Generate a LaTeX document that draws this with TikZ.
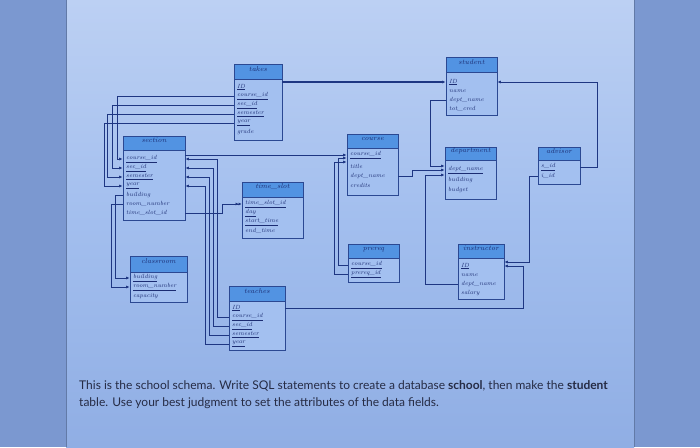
\documentclass[tikz,border=0pt]{standalone}
\usepackage{fontspec}
\newfontfamily\latofont{Lato}
\usetikzlibrary{arrows.meta,fit,calc}
\definecolor{outerbg}{HTML}{7B98D0}
\definecolor{pagetop}{HTML}{BCD0F3}
\definecolor{pagemid}{HTML}{A2BEEE}
\definecolor{pagebot}{HTML}{90AEE4}
\definecolor{tabfill}{HTML}{A3C0F0}
\definecolor{headfill}{HTML}{5293E2}
\definecolor{tabborder}{HTML}{2B4892}
\definecolor{textblue}{HTML}{1B2C72}
\definecolor{linkblue}{HTML}{1E3682}
\definecolor{captext}{HTML}{262C45}
\tikzset{
  tbody/.style={draw=tabborder, fill=tabfill, line width=0.7pt, inner sep=0pt},
  thead/.style={draw=tabborder, fill=headfill, line width=0.7pt, inner sep=0pt,
    font=\itshape\fontsize{7}{8}\selectfont, text=textblue},
  attr/.style={anchor=west, inner sep=0pt, font=\itshape\fontsize{6}{7}\selectfont, text=textblue},
  fk/.style={draw=linkblue, line width=0.8pt, -{Latex[length=3.5pt,width=3pt]}},
  dfk/.style={draw=linkblue, line width=0.8pt, -{Latex[length=3pt,width=3pt]Latex[length=3pt,width=3pt]}},
}
\newcommand\mktable[7]{%
  \node[tbody, fit={(#2,#3)(#4,#5)}] (#1-b) {};
  \node[thead, fit={(#2,#3)(#4,#6)}] (#1-h) {#7};
}
\newcommand\attrrow[4]{\node[attr] (#1) at (#2,#3) {#4};}
\begin{document}
\begin{tikzpicture}[x=1pt,y=-1pt]
\useasboundingbox (0,0) rectangle (700,447);
% background photo of screen
\fill[outerbg] (0,0) rectangle (700,447);
\shade[top color=pagetop, bottom color=pagebot, middle color=pagemid] (66,0) rectangle (634,447);
\draw[outerbg!80!black, line width=0.6pt] (66,0) -- (66,447);
\draw[outerbg!80!black, line width=0.6pt] (634,0) -- (634,447);

% tables
\mktable{takes}{234}{64}{282}{140}{79}{takes}
\attrrow{takes-ID}{237}{87}{\underline{ID}}
\attrrow{takes-cid}{237}{96}{\underline{course\_id}}
\attrrow{takes-sid}{237}{105}{\underline{sec\_id}}
\attrrow{takes-sem}{237}{114}{\underline{semester}}
\attrrow{takes-yr}{237}{123}{\underline{year}}
\attrrow{takes-gr}{237}{132}{grade}

\mktable{student}{446}{57}{497}{115}{72}{student}
\attrrow{student-ID}{449}{82}{\underline{ID}}
\attrrow{student-nm}{449}{91}{name}
\attrrow{student-dn}{449}{100}{dept\_name}
\attrrow{student-tc}{449}{109}{tot\_cred}

\mktable{section}{123}{136}{185}{220}{150}{section}
\attrrow{section-cid}{126}{159}{\underline{course\_id}}
\attrrow{section-sid}{126}{168}{\underline{sec\_id}}
\attrrow{section-sem}{126}{177}{\underline{semester}}
\attrrow{section-yr}{126}{186}{\underline{year}}
\attrrow{section-bld}{126}{195}{building}
\attrrow{section-rn}{126}{204}{room\_number}
\attrrow{section-tsid}{126}{213}{time\_slot\_id}

\mktable{course}{347}{134}{398}{195}{148}{course}
\attrrow{course-cid}{350}{155}{\underline{course\_id}}
\attrrow{course-tt}{350}{166}{title}
\attrrow{course-dn}{350}{176}{dept\_name}
\attrrow{course-cr}{350}{185}{credits}

\mktable{department}{445}{147}{496}{199}{160}{department}
\attrrow{department-dn}{448}{170}{\underline{dept\_name}}
\attrrow{department-bld}{448}{180}{building}
\attrrow{department-bg}{448}{190}{budget}

\mktable{advisor}{538}{147}{580}{184}{160}{advisor}
\attrrow{advisor-sid}{541}{167}{\underline{s\_id}}
\attrrow{advisor-iid}{541}{176}{i\_id}

\mktable{timeslot}{242}{182}{303}{238}{197}{time\_slot}
\attrrow{timeslot-tsid}{245}{204}{\underline{time\_slot\_id}}
\attrrow{timeslot-day}{245}{213}{\underline{day}}
\attrrow{timeslot-st}{245}{222}{\underline{start\_time}}
\attrrow{timeslot-et}{245}{231}{end\_time}

\mktable{prereq}{348}{244}{399}{282}{258}{prereq}
\attrrow{prereq-cid}{351}{265}{\underline{course\_id}}
\attrrow{prereq-pid}{351}{274}{\underline{prereq\_id}}

\mktable{instructor}{458}{244}{504}{299}{258}{instructor}
\attrrow{instructor-ID}{461}{266}{\underline{ID}}
\attrrow{instructor-nm}{461}{275}{name}
\attrrow{instructor-dn}{461}{284}{dept\_name}
\attrrow{instructor-sal}{461}{293}{salary}

\mktable{classroom}{130}{256}{187}{302}{272}{classroom}
\attrrow{classroom-bld}{133}{278}{\underline{building}}
\attrrow{classroom-rn}{133}{287}{\underline{room\_number}}
\attrrow{classroom-cap}{133}{296}{capacity}

\mktable{teaches}{229}{286}{285}{350}{301}{teaches}
\attrrow{teaches-ID}{232}{308}{\underline{ID}}
\attrrow{teaches-cid}{232}{317}{\underline{course\_id}}
\attrrow{teaches-sid}{232}{326}{\underline{sec\_id}}
\attrrow{teaches-sem}{232}{335}{\underline{semester}}
\attrrow{teaches-yr}{232}{344}{\underline{year}}

% connectors
\draw[fk, line width=1.2pt] (takes-b.east |- student-ID) -- (student-b.west |- student-ID);

\draw[fk] (takes-b.west |- takes-cid) -- (117,96) -- (117,159) -- (section-b.west |- section-cid);
\draw[fk] (takes-b.west |- takes-sid) -- (112,105) -- (112,168) -- (section-b.west |- section-sid);
\draw[fk] (takes-b.west |- takes-sem) -- (107,114) -- (107,177) -- (section-b.west |- section-sem);
\draw[fk] (takes-b.west |- takes-yr) -- (104,123) -- (104,186) -- (section-b.west |- section-yr);

\draw[fk] (section-b.west |- section-bld) -- (115,195) -- (115,278) -- (classroom-b.west |- classroom-bld);
\draw[fk] (section-b.west |- section-rn) -- (111,204) -- (111,287) -- (classroom-b.west |- classroom-rn);

\draw[fk, line width=1pt] (section-b.east |- course-cid) -- (course-b.west |- course-cid);

\draw[fk] (teaches-b.west |- teaches-cid) -- (217,317) -- (217,159) -- (section-b.east |- section-cid);
\draw[fk] (teaches-b.west |- teaches-sid) -- (213,326) -- (213,168) -- (section-b.east |- section-sid);
\draw[fk] (teaches-b.west |- teaches-sem) -- (209,335) -- (209,177) -- (section-b.east |- section-sem);
\draw[fk] (teaches-b.west |- teaches-yr) -- (205,344) -- (205,186) -- (section-b.east |- section-yr);

\draw[dfk] (section-b.east |- section-tsid) -- (222,213) -- (222,204) -- (timeslot-b.west |- timeslot-tsid);

\draw[fk] (prereq-b.west |- prereq-cid) -- (338,265) -- (338,158) -- ($(course-b.west |- course-cid)+(0,3)$);
\draw[fk] (prereq-b.west |- prereq-pid) -- (334,274) -- (334,162) -- ($(course-b.west |- course-cid)+(0,7)$);

\draw[fk] (student-b.west |- student-dn) -- (430,100) -- (430,166) -- ($(department-b.west |- department-dn)+(0,-4)$);
\draw[fk] (course-b.east |- course-dn) -- (412,176) -- (412,170) -- (department-b.west |- department-dn);
\draw[fk] (instructor-b.west |- instructor-dn) -- (425,284) -- (425,175) -- ($(department-b.west |- department-dn)+(0,5)$);

\draw[fk] (advisor-b.east |- advisor-sid) -- (597,167) -- (597,82) -- (student-b.east |- student-ID);
\draw[fk] (advisor-b.west |- advisor-iid) -- (529,176) -- (529,262) -- ($(instructor-b.east |- instructor-ID)+(0,-4)$);
\draw[fk] (teaches-b.east |- teaches-ID) -- (523,308) -- (523,266) -- (instructor-b.east |- instructor-ID);

% caption
\node[anchor=west, inner sep=0pt, align=left, text=captext,
  font=\latofont\fontsize{12}{17}\selectfont] (caption) at (79,395)
  {This is the school schema. Write SQL statements to create a database \textbf{school}, then make the \textbf{student}\\
   table. Use your best judgment to set the attributes of the data fields.};
\end{tikzpicture}
\end{document}
